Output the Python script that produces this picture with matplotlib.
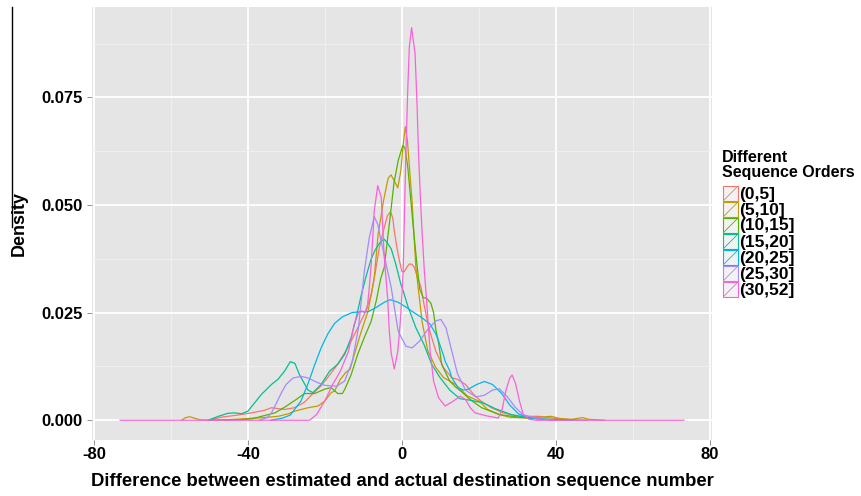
import matplotlib
matplotlib.use("Agg")
import matplotlib.pyplot as plt
from matplotlib.patches import Rectangle
from matplotlib.lines import Line2D
from matplotlib.ticker import MultipleLocator

plt.rcParams['font.family'] = ['Liberation Sans', 'DejaVu Sans']

# ---------------- data ----------------
series_labels = ["(0,5]", "(5,10]", "(10,15]", "(15,20]", "(20,25]", "(25,30]", "(30,52]"]
series_colors = ["#F8766D", "#C49A00", "#53B400", "#00C094", "#00B6EB", "#A58AFF", "#FB61D7"]

x_0_5 = [-50.3, -46.9, -42.6, -39.1, -35.7, -33.9, -30.5, -27.9, -25.3, -22.7, -21.0, -19.3, -16.7, -14.1,
         -11.9, -9.8, -8.0, -7.0, -5.9, -4.6, -3.8, -3.0, -2.4, -2.0, -1.3, -0.7, 0.0, 0.6, 1.3, 1.9, 2.6,
         3.2, 4.1, 4.9, 5.7, 6.7, 7.2, 8.8, 10.8, 12.9, 14.4, 16.5, 18.6, 20.6, 23.2, 26.3, 30.4, 35.6, 40.0, 44.8]
y_0_5 = [0.0, 0.0007, 0.0012, 0.0017, 0.0023, 0.0029, 0.0025, 0.0029, 0.0042, 0.0066, 0.0080, 0.0099, 0.0130,
         0.0168, 0.0207, 0.0246, 0.0290, 0.0340, 0.0401, 0.0448, 0.0475, 0.0484, 0.0470, 0.0440, 0.0400, 0.0372,
         0.0345, 0.0345, 0.0356, 0.0363, 0.0362, 0.0355, 0.0330, 0.0310, 0.0270, 0.0225, 0.0207, 0.0160, 0.0122,
         0.0099, 0.0095, 0.0083, 0.0060, 0.0044, 0.0029, 0.0017, 0.0009, 0.0009, 0.0004, 0.0]

x_5_10 = [-57.2, -56.2, -55.1, -54.0, -52.5, -50.0, -45.0, -40.0, -36.0, -32.2, -29.5, -27.9, -24.4, -21.8,
          -20.1, -18.4, -17.5, -16.0, -14.5, -13.5, -12.9, -10.8, -8.8, -7.2, -6.2, -4.8, -3.6, -2.85, -2.0,
          -1.1, -0.3, 0.3, 0.86, 1.4, 2.0, 2.6, 3.6, 5.2, 6.7, 8.8, 10.8, 13.9, 17.0, 20.1, 22.2, 25.3, 28.0,
          32.5, 36.0, 38.7, 41.0, 44.0, 46.9, 48.5, 52.6]
y_5_10 = [0.0, 0.0006, 0.0008, 0.0005, 0.0001, 0.0, 0.0001, 0.0004, 0.0006, 0.0009, 0.0015, 0.0021, 0.0029,
          0.0033, 0.0044, 0.0064, 0.0068, 0.0095, 0.0112, 0.0118, 0.0137, 0.0200, 0.0254, 0.0332, 0.0432, 0.0510,
          0.0562, 0.0570, 0.0556, 0.0540, 0.0580, 0.0640, 0.0682, 0.0650, 0.0580, 0.0510, 0.0355, 0.0230, 0.0161,
          0.0122, 0.0099, 0.0083, 0.0056, 0.0044, 0.0025, 0.0013, 0.0007, 0.0005, 0.0007, 0.0009, 0.0004, 0.0002,
          0.0006, 0.0002, 0.0]

x_10_15 = [-50.0, -42.0, -39.0, -36.5, -33.0, -30.5, -27.5, -25.3, -22.7, -20.1, -18.4, -16.7, -15.5, -14.9,
           -13.2, -11.5, -9.8, -8.0, -6.7, -5.5, -4.6, -3.9, -3.1, -2.1, -1.0, 0.2, 0.8, 1.5, 2.3, 3.1, 3.9,
           4.6, 5.5, 6.4, 7.5, 8.2, 8.8, 9.5, 10.3, 10.8, 12.4, 13.8, 15.5, 17.2, 18.0, 20.7, 25.3, 30.4, 37.6, 42.8]
y_10_15 = [0.0, 0.0001, 0.0003, 0.0009, 0.0017, 0.0030, 0.0048, 0.0062, 0.0062, 0.0072, 0.0076, 0.0062, 0.0062,
           0.0071, 0.0106, 0.0153, 0.0192, 0.0230, 0.0277, 0.0330, 0.0355, 0.0410, 0.0470, 0.0550, 0.0603, 0.0638,
           0.0632, 0.0588, 0.0510, 0.0432, 0.0360, 0.0305, 0.0285, 0.0283, 0.0272, 0.0250, 0.0210, 0.0180, 0.0130,
           0.0120, 0.0091, 0.0078, 0.0066, 0.0052, 0.0046, 0.0029, 0.0013, 0.0007, 0.0002, 0.0]

x_15_20 = [-50.3, -47.7, -45.2, -43.4, -41.7, -40.0, -38.3, -36.5, -33.9, -32.2, -30.5, -29.0, -27.8, -26.6,
           -24.4, -23.1, -21.0, -18.8, -16.7, -14.9, -13.2, -11.9, -10.6, -9.3, -8.0, -7.0, -5.8, -4.7, -3.8,
           -2.8, -1.6, -0.3, 0.5, 1.5, 3.6, 5.7, 7.7, 9.8, 12.4, 15.0, 18.0, 21.1, 24.2, 28.4, 32.5, 37.6, 44.8]
y_15_20 = [0.0, 0.0009, 0.0016, 0.0017, 0.0015, 0.0021, 0.0040, 0.0060, 0.0083, 0.0095, 0.0114, 0.0136, 0.0132,
           0.0105, 0.0070, 0.0064, 0.0083, 0.0114, 0.0130, 0.0153, 0.0192, 0.0238, 0.0290, 0.0335, 0.0375, 0.0395,
           0.0412, 0.0421, 0.0412, 0.0398, 0.0362, 0.0316, 0.0295, 0.0265, 0.0215, 0.0176, 0.0130, 0.0100, 0.0070,
           0.0050, 0.0046, 0.0040, 0.0027, 0.0013, 0.0006, 0.0002, 0.0]

x_20_25 = [-34.0, -31.0, -29.0, -27.9, -26.2, -24.4, -22.7, -21.0, -19.3, -17.5, -15.5, -13.0, -10.8, -8.8,
           -6.7, -4.6, -3.0, -1.0, 1.0, 3.1, 5.2, 7.3, 8.8, 9.5, 10.8, 11.2, 12.4, 12.9, 14.6, 16.0, 17.2,
           19.4, 21.4, 23.5, 25.9, 28.0, 30.2, 32.5, 36.0, 48.0]
y_20_25 = [0.0, 0.0005, 0.0012, 0.0025, 0.0045, 0.0085, 0.0128, 0.0168, 0.0200, 0.0225, 0.0240, 0.0250, 0.0252,
           0.0252, 0.0262, 0.0274, 0.0280, 0.0274, 0.0263, 0.0250, 0.0238, 0.0223, 0.0200, 0.0184, 0.0150, 0.0137,
           0.0115, 0.0099, 0.0075, 0.0070, 0.0072, 0.0083, 0.0090, 0.0083, 0.0062, 0.0035, 0.0015, 0.0006, 0.0002, 0.0]

x_25_30 = [-37.0, -35.0, -33.9, -32.6, -31.3, -30.1, -28.3, -26.2, -24.4, -21.8, -20.1, -17.0, -14.9, -12.9,
           -11.3, -9.8, -8.5, -7.2, -6.3, -5.6, -4.1, -2.8, -1.0, 1.0, 2.6, 4.6, 6.7, 8.8, 10.1, 11.4, 12.9,
           14.4, 16.5, 19.2, 21.4, 23.5, 25.3, 27.3, 29.4, 31.4, 34.5, 38.7]
y_25_30 = [0.0, 0.0006, 0.0017, 0.0040, 0.0064, 0.0083, 0.0098, 0.0102, 0.0098, 0.0087, 0.0081, 0.0079, 0.0091,
           0.0137, 0.0215, 0.0345, 0.0424, 0.0473, 0.0455, 0.0424, 0.0362, 0.0308, 0.0207, 0.0172, 0.0168, 0.0184,
           0.0211, 0.0231, 0.0234, 0.0215, 0.0162, 0.0108, 0.0070, 0.0054, 0.0058, 0.0070, 0.0073, 0.0055, 0.0030,
           0.0013, 0.0005, 0.0]

x_30_52 = [-73.2, -24.0, -23.7, -22.2, -20.1, -18.0, -16.0, -13.9, -12.4, -11.2, -10.3, -9.6, -9.0, -8.5, -8.0,
           -7.6, -7.2, -6.3, -5.4, -5.0, -4.6, -3.7, -3.3, -2.8, -2.0, -1.1, -0.7, -0.3, 0.3, 1.0, 1.5, 1.9, 2.5,
           3.4, 3.9, 4.3, 4.7, 5.1, 5.8, 6.4, 7.3, 8.2, 9.5, 11.2, 13.3, 15.1, 16.5, 17.8, 19.0, 22.0, 25.0, 26.0,
           27.0, 28.0, 28.6, 29.5, 30.5, 31.5, 33.0, 35.0, 73.2]
y_30_52 = [0.0, 0.0, 0.0002, 0.0013, 0.0044, 0.0083, 0.0114, 0.0160, 0.0223, 0.0252, 0.0254, 0.0250, 0.0262,
           0.0308, 0.0362, 0.0424, 0.0487, 0.0545, 0.0518, 0.0448, 0.0378, 0.0280, 0.0207, 0.0155, 0.0119, 0.0160,
           0.0200, 0.0246, 0.0347, 0.0618, 0.0770, 0.0867, 0.0912, 0.0851, 0.0735, 0.0618, 0.0533, 0.0456, 0.0347,
           0.0277, 0.0160, 0.0091, 0.0052, 0.0033, 0.0044, 0.0056, 0.0048, 0.0028, 0.0017, 0.0010, 0.0005, 0.0025,
           0.0070, 0.0098, 0.0105, 0.0085, 0.0045, 0.0013, 0.0002, 0.0, 0.0]

series_x = [x_0_5, x_5_10, x_10_15, x_15_20, x_20_25, x_25_30, x_30_52]
series_y = [y_0_5, y_5_10, y_10_15, y_15_20, y_20_25, y_25_30, y_30_52]

x_ticks = [-80, -40, 0, 40, 80]
x_tick_labels = ["-80", "-40", "0", "40", "80"]
y_ticks = [0.0, 0.025, 0.05, 0.075]
y_tick_labels = ["0.000", "0.025", "0.050", "0.075"]

# ---------------- figure ----------------
W, H = 862, 496
fig = plt.figure(figsize=(W / 100, H / 100), dpi=100)
ax = fig.add_axes([92 / W, 1 - 440 / H, (712 - 92) / W, (440 - 7) / H])
ax.set_facecolor("#E5E5E5")
for s in ax.spines.values():
    s.set_visible(False)

ax.set_xlim(-80.5, 80.5)
ax.set_ylim(-0.0046, 0.0960)
ax.set_xticks(x_ticks)
ax.set_xticklabels(x_tick_labels)
ax.set_yticks(y_ticks)
ax.set_yticklabels(y_tick_labels)
ax.xaxis.set_minor_locator(MultipleLocator(20))
ax.yaxis.set_minor_locator(MultipleLocator(0.0125))
ax.grid(which="major", color="white", linewidth=1.3)
ax.grid(which="minor", color="#F2F2F2", linewidth=0.6)
ax.set_axisbelow(True)
ax.tick_params(which="major", length=3.5, width=0.6, color="#7F7F7F", labelsize=12,
               labelcolor="black", pad=3)
ax.tick_params(axis="x", which="major", pad=1.5)
ax.tick_params(which="minor", length=0)
for lab in ax.get_xticklabels() + ax.get_yticklabels():
    lab.set_fontweight("bold")

for xs, ys, c in zip(series_x, series_y, series_colors):
    ax.plot(xs, ys, color=c, linewidth=0.9, solid_joinstyle="round")

ax.set_xlabel("Difference between estimated and actual destination sequence number",
              fontsize=13.3, fontweight="bold", labelpad=8)
ax.set_ylabel("Density", fontsize=13, fontweight="bold", labelpad=10)

# stray vertical line at the left of the image
fig.add_artist(Line2D([12 / W, 12 / W], [1 - 7 / H, 1 - 227 / H], color="black", linewidth=1.0))

# ---------------- legend ----------------
fig.text(722 / W, 1 - 150 / H, "Different\nSequence Orders", fontsize=11.5, fontweight="bold",
         va="top", ha="left", linespacing=1.0)
key_top = 186
key_h = 16
key_w = 15
for i, (lab, c) in enumerate(zip(series_labels, series_colors)):
    top = key_top + i * key_h
    x0 = 723 / W
    y0 = 1 - (top + key_h - 1) / H
    fig.add_artist(Rectangle((x0, y0), key_w / W, (key_h - 1) / H, facecolor="#F2F2F2",
                             edgecolor=c, linewidth=0.8))
    fig.add_artist(Line2D([x0 + 1 / W, x0 + (key_w - 1) / W], [y0 + 1 / H, y0 + (key_h - 2) / H],
                          color=c, linewidth=0.6))
    fig.text(739 / W, 1 - (top + key_h / 2) / H, lab, fontsize=12.5, fontweight="bold",
             va="center", ha="left")

fig.savefig("out.png", dpi=100)
